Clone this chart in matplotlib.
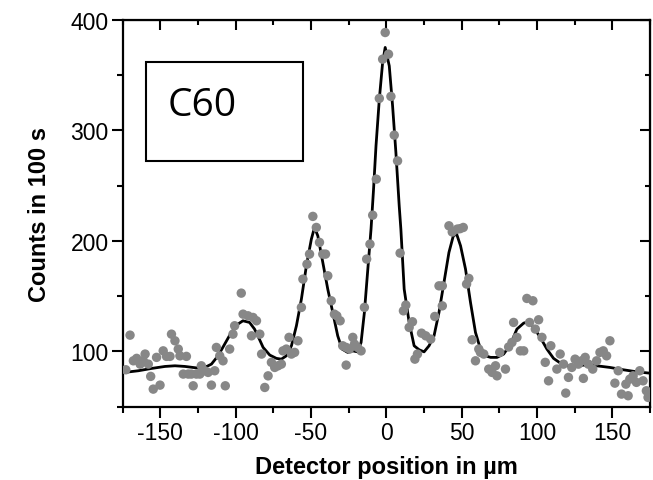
import numpy as np
import matplotlib.pyplot as plt
from matplotlib.patches import Rectangle
from matplotlib.ticker import MultipleLocator

# measured counts (detector position in um, counts in 100 s)
pos = [-172.8, -170.0, -167.8, -165.6, -163.3, -161.2, -160.0, -157.9, -156.3, -154.6,
       -152.4, -150.1, -148.0, -145.8, -143.5, -142.5, -140.2, -138.0, -136.9, -134.7,
       -132.6, -131.4, -129.3, -128.1, -126.0, -123.7, -122.7, -120.4, -118.2, -116.0,
       -113.8, -112.7, -110.5, -108.3, -106.8, -103.9, -101.7, -100.6, -96.2, -95.0,
       -91.7, -88.4, -86.1, -89.4, -83.9, -82.7, -80.6, -78.4, -76.2, -74.0,
       -71.8, -69.6, -68.5, -66.3, -64.5, -62.9, -60.8, -58.6, -56.3, -55.3,
       -52.6, -50.9, -48.7, -46.4, -44.3, -42.1, -40.3, -38.8, -36.5, -34.4,
       -32.8, -30.6, -28.9, -26.6, -26.6, -24.4, -22.2, -21.1, -19.0, -16.7,
       -14.5, -13.0, -10.8, -9.0, -6.6, -4.6, -2.4, -0.7, 1.5, 3.1,
       5.3, 7.5, 9.2, 11.4, 13.0, 15.2, 17.4, 19.0, 20.7, 23.4,
       26.2, 29.5, 32.2, 35.0, 37.2, 37.2, 41.6, 43.8, 47.1, 49.0,
       51.1, 53.3, 54.8, 57.0, 59.2, 61.4, 62.5, 64.7, 68.0, 70.2,
       72.5, 73.5, 75.3, 79.1, 81.2, 83.4, 84.5, 86.7, 89.0, 91.2,
       93.3, 97.3, 95.1, 98.9, 101.1, 103.3, 105.5, 107.7, 109.2, 113.2,
       115.4, 117.6, 119.1, 120.9, 123.1, 125.3, 127.5, 129.7, 130.8, 132.0,
       134.1, 137.0, 139.6, 141.8, 144.0, 146.2, 148.4, 151.7, 153.9, 156.1,
       159.0, 160.5, 161.6, 163.8, 166.0, 168.2, 170.4, 172.6, 173.7]
counts = [83.4, 114.7, 91.5, 93.7, 88.5, 91.5, 97.6, 88.5, 77.4, 65.9,
          94.6, 69.5, 100.5, 95.5, 95.5, 115.6, 109.6, 102.1, 96.0, 79.5,
          95.5, 79.5, 79.5, 68.9, 79.5, 79.5, 87.0, 82.5, 81.0, 69.5,
          82.5, 103.6, 96.0, 91.5, 68.9, 102.1, 115.6, 123.2, 152.7, 133.7,
          132.2, 130.7, 127.7, 114.1, 115.6, 97.6, 67.4, 77.9, 90.1, 85.5,
          87.0, 88.5, 100.5, 102.1, 112.7, 97.6, 99.1, 109.6, 139.8, 165.4,
          178.9, 188.0, 222.1, 212.1, 198.6, 188.0, 188.0, 168.4, 145.8, 133.7,
          132.2, 127.7, 105.1, 103.6, 87.6, 102.1, 112.7, 106.6, 103.6, 100.5,
          139.8, 183.5, 197.0, 223.2, 255.8, 328.8, 364.3, 388.4, 368.8, 330.6,
          295.6, 272.3, 188.9, 136.7, 141.9, 121.7, 126.8, 93.0, 97.6, 116.5,
          114.1, 111.1, 131.6, 159.3, 159.3, 141.2, 213.6, 208.0, 210.6, 211.0,
          212.1, 160.9, 166.0, 110.5, 91.5, 102.1, 99.1, 97.6, 84.0, 81.0,
          87.0, 77.9, 99.1, 84.0, 104.0, 108.1, 126.2, 112.7, 100.5, 100.5,
          147.9, 145.8, 126.2, 120.2, 128.6, 112.7, 90.1, 73.4, 105.1, 84.0,
          97.6, 88.5, 62.3, 76.5, 85.5, 93.0, 88.5, 91.5, 75.6, 94.6,
          88.5, 84.0, 91.5, 99.1, 100.5, 96.0, 109.6, 71.3, 82.5, 61.4,
          70.4, 59.9, 74.9, 77.9, 72.0, 82.5, 73.4, 64.4, 58.4]

# fitted curve
fit_x = [-175.0, -164.5, -155.7, -146.8, -140.2, -133.6, -124.8, -120.4, -116.0, -111.6,
         -107.2, -102.8, -98.4, -95.1, -90.7, -87.4, -84.5, -81.7, -77.3, -72.9,
         -69.6, -66.3, -62.9, -59.6, -56.3, -53.0, -49.7, -47.6, -45.4, -42.1,
         -38.8, -35.5, -32.2, -29.3, -25.6, -22.2, -19.0, -16.7, -14.5, -12.4,
         -10.1, -8.5, -6.8, -4.6, -2.4, -0.7, 2.0, 4.2, 6.4, 8.6,
         9.7, 11.9, 15.2, 18.5, 21.8, 25.1, 28.4, 31.7, 35.0, 38.3,
         41.6, 44.5, 46.7, 49.3, 52.6, 55.9, 59.2, 62.5, 65.9, 69.2,
         73.5, 77.9, 82.3, 86.7, 91.2, 94.5, 97.8, 102.2, 106.6, 111.0,
         116.5, 122.0, 130.8, 139.6, 148.4, 157.2, 166.0, 175.0]
fit_y = [80.8, 82.5, 84.6, 86.4, 87.0, 86.4, 84.9, 85.5, 88.5, 96.0,
         106.6, 117.2, 124.7, 127.7, 126.2, 120.2, 112.0, 103.6, 96.7, 93.7,
         93.0, 96.0, 105.1, 123.2, 147.3, 177.4, 201.5, 212.1, 204.5, 180.5,
         156.3, 135.3, 114.1, 102.1, 99.1, 100.5, 99.6, 108.1, 135.3, 171.4,
         210.6, 245.0, 285.9, 328.1, 361.3, 374.9, 358.2, 322.1, 279.9, 231.6,
         210.6, 156.3, 126.2, 105.1, 101.5, 99.6, 105.1, 114.1, 135.3, 162.4,
         189.5, 204.5, 206.1, 195.5, 174.4, 144.3, 117.2, 102.1, 96.0, 94.6,
         94.6, 97.6, 106.0, 120.2, 125.6, 126.8, 121.7, 112.7, 102.1, 93.7,
         88.5, 86.4, 87.6, 87.0, 85.5, 83.4, 81.6, 80.3]

plt.rcParams["font.family"] = ["Liberation Sans", "DejaVu Sans"]

fig = plt.figure(figsize=(6.53, 4.81), dpi=100)
ax = fig.add_axes([0.1876, 0.1524, 0.8078, 0.8046])

ax.plot(fit_x, fit_y, color="black", linewidth=2.0, zorder=2)
ax.scatter(pos, counts, s=46, color="#878787", edgecolors="none", zorder=3)

ax.set_xlim(-175, 175)
ax.set_ylim(50, 400)
ax.xaxis.set_major_locator(MultipleLocator(50))
ax.xaxis.set_minor_locator(MultipleLocator(25))
ax.yaxis.set_major_locator(MultipleLocator(100))
ax.yaxis.set_minor_locator(MultipleLocator(50))
ax.set_xticks([-150, -100, -50, 0, 50, 100, 150])
ax.set_xticklabels(["-150", "-100", "-50", "0", "50", "100", "150"])
ax.tick_params(which="major", direction="out", length=8, width=1.5, labelsize=16.5, pad=2)
ax.tick_params(which="minor", direction="out", length=4, width=1.5)
for s in ax.spines.values():
    s.set_linewidth(1.6)

# inward ticks on top and right
top = ax.secondary_xaxis("top")
top.xaxis.set_major_locator(MultipleLocator(50))
top.xaxis.set_minor_locator(MultipleLocator(25))
top.tick_params(which="major", direction="in", length=7, width=1.5, labeltop=False)
top.tick_params(which="minor", direction="in", length=3.5, width=1.5)
right = ax.secondary_yaxis("right")
right.yaxis.set_major_locator(MultipleLocator(100))
right.yaxis.set_minor_locator(MultipleLocator(50))
right.tick_params(which="major", direction="in", length=7, width=1.5, labelright=False)
right.tick_params(which="minor", direction="in", length=3.5, width=1.5)

ax.set_xlabel("Detector position in \u00b5m", fontsize=17, fontweight="bold", labelpad=8)
ax.set_ylabel("Counts in 100 s", fontsize=17, fontweight="bold", labelpad=14)

ax.add_patch(Rectangle((0.0446, 0.634), 0.2984, 0.256, transform=ax.transAxes,
                       fill=False, edgecolor="black", linewidth=1.5, zorder=4))
ax.text(0.152, 0.78, "C60", transform=ax.transAxes, fontsize=28,
        family=["Open Sans", "DejaVu Sans"], ha="center", va="center", zorder=5)

fig.savefig("out.png", dpi=100)
